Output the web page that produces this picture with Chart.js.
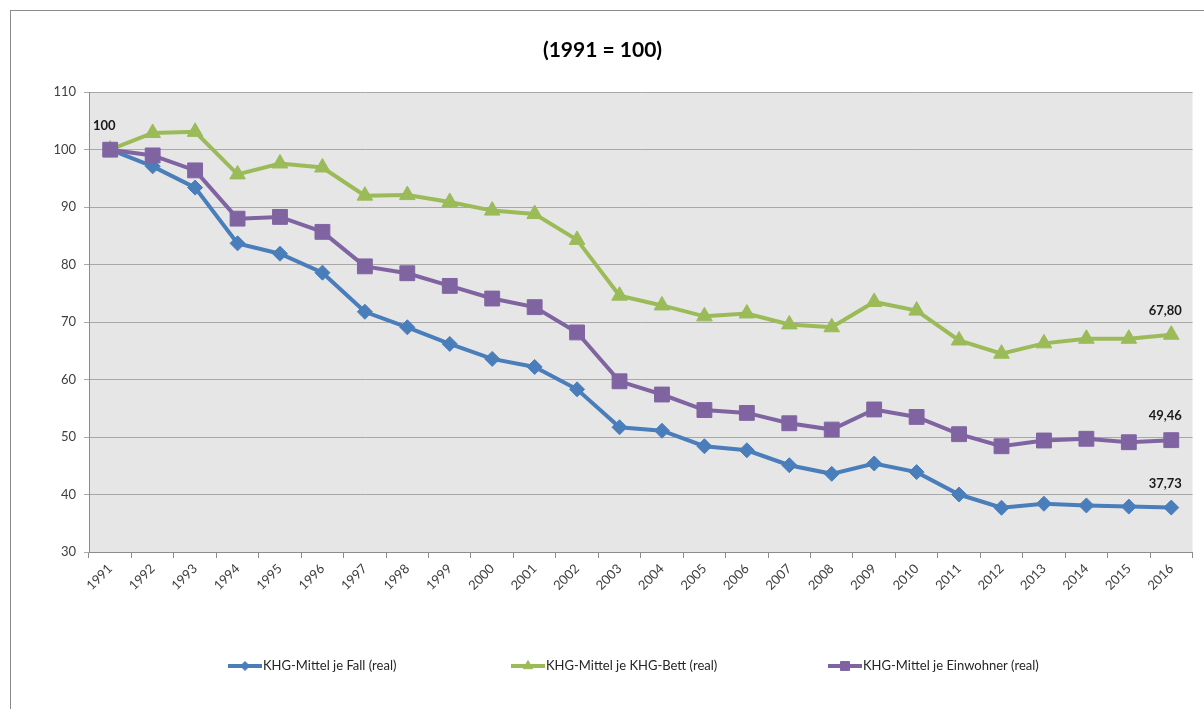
<!DOCTYPE html>
<html>
<head>
<meta charset="utf-8">
<script src="https://cdn.jsdelivr.net/npm/chart.js@4.4.0/dist/chart.umd.min.js"></script>
<style>
  body { margin: 0; background: #fff; }
  #frame {
    position: absolute; left: 10px; top: 10px;
    width: 1193px; height: 698px;
    border-left: 1px solid #8c8c8c; border-top: 1px solid #8c8c8c;
  }
  canvas { display: block; }
</style>
</head>
<body>
<div id="frame"><canvas id="chart" width="1193" height="698"></canvas></div>
<script>
'use strict';

// categories + series (index, 1991 = 100)
const years = ['1991', '1992', '1993', '1994', '1995', '1996', '1997', '1998', '1999', '2000',
  '2001', '2002', '2003', '2004', '2005', '2006', '2007', '2008', '2009', '2010',
  '2011', '2012', '2013', '2014', '2015', '2016'];

const jeFall = [100, 97.1, 93.4, 83.7, 81.9, 78.6, 71.8, 69.1, 66.2, 63.6,
  62.2, 58.3, 51.7, 51.1, 48.4, 47.7, 45.1, 43.6, 45.4, 43.9,
  40.0, 37.7, 38.4, 38.1, 37.9, 37.73];

const jeBett = [100, 102.9, 103.1, 95.7, 97.6, 96.9, 92.0, 92.1, 90.9, 89.4,
  88.8, 84.3, 74.6, 72.9, 71.0, 71.5, 69.6, 69.1, 73.5, 72.0,
  66.8, 64.5, 66.3, 67.1, 67.1, 67.80];

const jeEinwohner = [100, 99.0, 96.4, 88.0, 88.3, 85.7, 79.7, 78.5, 76.3, 74.1,
  72.6, 68.2, 59.7, 57.4, 54.7, 54.2, 52.4, 51.3, 54.8, 53.5,
  50.5, 48.4, 49.4, 49.7, 49.1, 49.46];

const seriesNames = ['KHG-Mittel je Fall (real)', 'KHG-Mittel je KHG-Bett (real)', 'KHG-Mittel je Einwohner (real)'];

// y axis range / steps
const yMin = 30;
const yMax = 110;
const yStep = 10;

// which points get a value label: [series, year index]
const labelled = [[0, 0], [1, 25], [2, 25], [0, 25]];

const FONT = 'Lato, "Open Sans", sans-serif';

let canvasElem = document.getElementById('chart');

// grey plot area like the excel one
const plotBg = {
  id: 'plotBg',
  beforeDraw(chart) {
    const { ctx, chartArea: a } = chart;
    ctx.save();
    ctx.fillStyle = '#e6e6e6';
    ctx.fillRect(a.left, a.top, a.right - a.left, a.bottom - a.top);
    ctx.restore();
  }
};

const valueLabels = {
  id: 'valueLabels',
  afterDatasetsDraw(chart) {
    const ctx = chart.ctx;
    ctx.save();
    ctx.font = 'bold 13px ' + FONT;
    ctx.fillStyle = '#1a1a1a';
    ctx.textAlign = 'center';
    ctx.textBaseline = 'middle';
    labelled.forEach(([s, i]) => {
      const pt = chart.getDatasetMeta(s).data[i];
      const v = chart.data.datasets[s].data[i];
      const txt = i === 0 ? String(v) : v.toFixed(2).replace('.', ',');
      ctx.fillText(txt, pt.x - 6, pt.y - 24);
    });
    ctx.restore();
  }
};

// legend with line + marker, spaced like the original
const lineLegend = {
  id: 'lineLegend',
  afterDraw(chart) {
    const ctx = chart.ctx;
    const y = 655;
    const starts = [217, 500, 817];
    ctx.save();
    chart.data.datasets.forEach((ds, k) => {
      const x = starts[k];
      ctx.strokeStyle = ds.borderColor;
      ctx.fillStyle = ds.borderColor;
      ctx.lineWidth = 4;
      ctx.beginPath();
      ctx.moveTo(x, y);
      ctx.lineTo(x + 34, y);
      ctx.stroke();
      ctx.lineWidth = 1;
      Chart.helpers.drawPoint(ctx, {
        pointStyle: ds.pointStyle,
        radius: ds.pointRadius * 0.6,
        rotation: 0,
        borderWidth: 1
      }, x + 17, y);
      ctx.font = '13px ' + FONT;
      ctx.fillStyle = '#262626';
      ctx.textAlign = 'left';
      ctx.textBaseline = 'middle';
      ctx.fillText(ds.label, x + 35, y);
    });
    ctx.restore();
  }
};

function makeSet(label, data, color, style, radius, order) {
  return {
    label: label,
    data: data,
    borderColor: color,
    backgroundColor: color,
    borderWidth: 4,
    tension: 0,
    pointStyle: style,
    pointRadius: radius,
    pointHoverRadius: radius,
    pointBackgroundColor: color,
    pointBorderColor: color,
    pointBorderWidth: 1,
    order: order
  };
}

new Chart(canvasElem, {
  type: 'line',
  data: {
    labels: years,
    datasets: [
      makeSet(seriesNames[0], jeFall, '#4a7ebb', 'rectRot', 7.5, 2),
      makeSet(seriesNames[1], jeBett, '#9bbb59', 'triangle', 9, 1),
      makeSet(seriesNames[2], jeEinwohner, '#8064a2', 'rect', 10.5, 0)
    ]
  },
  options: {
    responsive: false,
    animation: false,
    layout: { padding: { left: 0, right: 10, top: 0, bottom: 0 } },
    plugins: {
      legend: { display: false },
      tooltip: { enabled: false },
      title: {
        display: true,
        text: '(1991 = 100)',
        color: '#000',
        font: { family: FONT, size: 21, weight: 'bold' },
        padding: { top: 27, bottom: 29 }
      }
    },
    scales: {
      x: {
        offset: true,
        grid: { drawOnChartArea: false, drawTicks: true, tickLength: 6, color: '#8c8c8c', offset: true },
        border: { color: '#8c8c8c' },
        ticks: {
          autoSkip: false,
          minRotation: 45,
          maxRotation: 45,
          padding: 3,
          color: '#404040',
          font: { family: FONT, size: 13 }
        },
        afterFit(scale) { scale.height = 157; }
      },
      y: {
        min: yMin,
        max: yMax,
        grid: { color: '#a8a8a8', tickLength: 5 },
        border: { color: '#8c8c8c' },
        ticks: {
          stepSize: yStep,
          padding: 8,
          color: '#404040',
          font: { family: FONT, size: 13 }
        },
        afterFit(scale) { scale.width = 78; }
      }
    }
  },
  plugins: [plotBg, valueLabels, lineLegend]
});
</script>
</body>
</html>
